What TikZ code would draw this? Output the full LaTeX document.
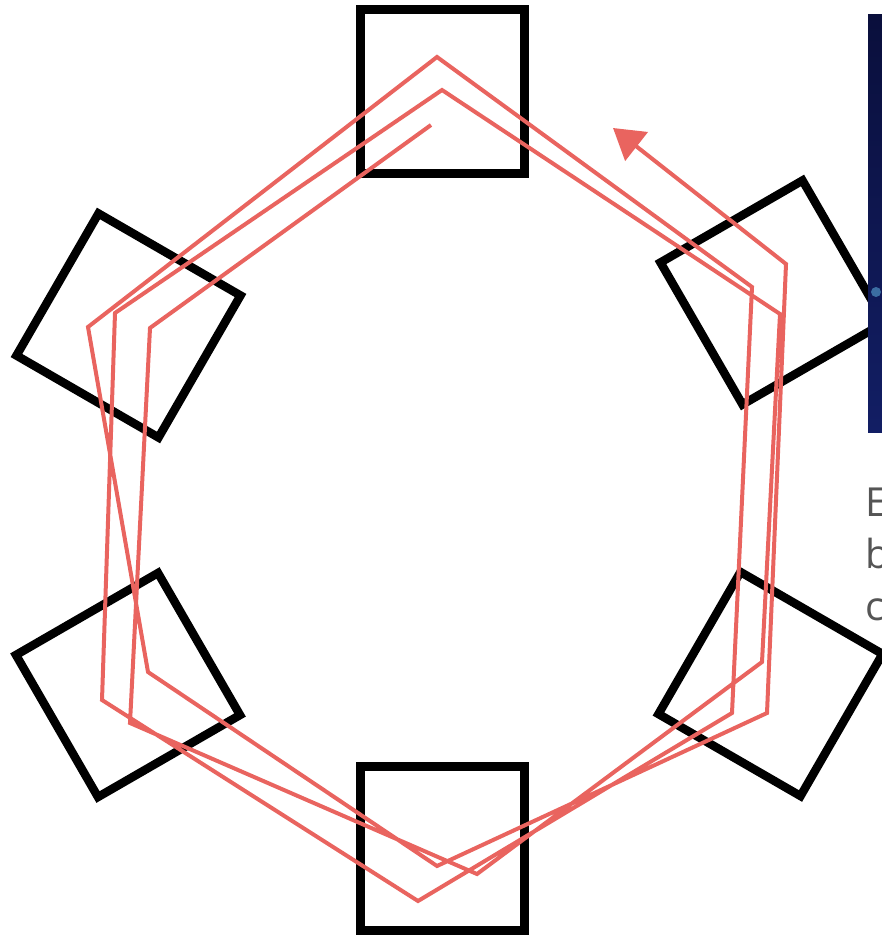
\documentclass[tikz,border=0pt]{standalone}
\usepackage{fontspec}
\setmainfont{Open Sans}
\usetikzlibrary{arrows.meta}
\definecolor{spiral}{RGB}{233,100,95}
\definecolor{navyA}{RGB}{10,15,60}
\definecolor{navyB}{RGB}{18,30,100}
\definecolor{spotblue}{RGB}{70,130,180}
\definecolor{txtgray}{RGB}{85,85,85}
\begin{document}
\begin{tikzpicture}[x=1pt,y=-1pt,
  holder/.style={draw=black, line width=8.5pt, minimum size=164pt, inner sep=0pt, outer sep=0pt},
  spiralline/.style={draw=spiral, line width=4pt, line join=miter},
  cut/.style={text=txtgray, font=\fontsize{40}{48}\selectfont, inner sep=0pt, anchor=base west}]
\useasboundingbox (0,0) rectangle (882,939);
\clip (0,0) rectangle (882,939);
% six square holders
\node[holder] (sqT) at (442.5,91.5) {};
\node[holder] (sqB) at (442.5,848.5) {};
\node[holder, rotate=-30] (sqTL) at (128.5,325.5) {};
\node[holder, rotate=30] (sqBL) at (128,685) {};
\node[holder, rotate=30] (sqTR) at (772.5,292.5) {};
\node[holder, rotate=-30] (sqBR) at (770.5,684) {};
% spiral path
\coordinate (s0) at (431,125);
\coordinate (c1) at (150,328);
\coordinate (e1) at (130,723);
\coordinate (r1) at (477,874);
\coordinate (i1) at (762,662);
\coordinate (l1) at (780,314);
\coordinate (o2) at (442,90);
\coordinate (b2) at (115,313);
\coordinate (d2) at (102,700);
\coordinate (q2) at (418,901);
\coordinate (g2) at (732,713);
\coordinate (k2) at (752,287);
\coordinate (o1) at (437,57);
\coordinate (a3) at (88,327);
\coordinate (f3) at (148,672);
\coordinate (p3) at (437,866);
\coordinate (h3) at (767,713);
\coordinate (j3) at (786,264);
\coordinate (tip) at (613,128);
\draw[spiralline, -{Triangle[length=30pt,width=36pt]}]
  (s0) -- (c1) -- (e1) -- (r1) -- (i1) -- (l1) -- (o2)
  -- (b2) -- (d2) -- (q2) -- (g2) -- (k2) -- (o1)
  -- (a3) -- (f3) -- (p3) -- (h3) -- (j3) -- (tip);
% partially visible panel and text at the right edge
\shade[top color=navyA, bottom color=navyB] (868,15) rectangle (895,432);
\fill[spotblue, opacity=0.8] (876,292) circle (5);
\node[cut] (t1) at (865,516) {E};
\node[cut] (t2) at (865,568) {b};
\node[cut] (t3) at (865,620) {c};
\end{tikzpicture}
\end{document}
